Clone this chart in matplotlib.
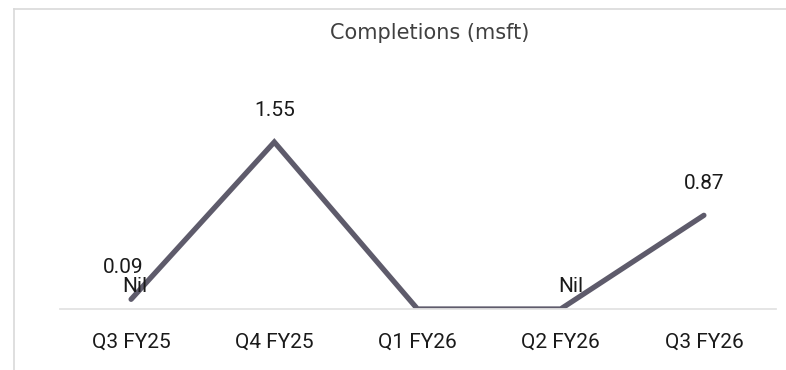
import matplotlib.pyplot as plt
from matplotlib.lines import Line2D

# Données : surfaces livrées par trimestre (millions de sq ft)
trimestres = ["Q3 FY25", "Q4 FY25", "Q1 FY26", "Q2 FY26", "Q3 FY26"]
livraisons = [0.09, 1.55, 0.0, 0.0, 0.87]
etiquettes = ["0.09", "1.55", "", "", "0.87"]

# Étiquettes "Nil" placées à part, comme dans le rapport
nil_positions = [0, 3]
nil_decalages = [(3, 9), (7, 16)]

couleur_ligne = "#5E5B6B"
couleur_texte = "#1a1a1a"
taille = 15

fig = plt.figure(figsize=(7.86, 3.70), dpi=100)
ax = fig.add_axes([59.5 / 786, 61 / 370, 716 / 786, 269.25 / 370])

x = list(range(len(trimestres)))
ax.plot(x, livraisons, color=couleur_ligne, linewidth=3.8, solid_capstyle="round",
        solid_joinstyle="miter")

for i, (v, lab) in enumerate(zip(livraisons, etiquettes)):
    if not lab:
        continue
    dx = -6 if i == 0 else 0
    ax.annotate(lab, (i, v), xytext=(dx, 23), textcoords="offset points",
                ha="center", va="center", fontsize=taille, family="Roboto",
                color=couleur_texte)

for i, (dx, dy) in zip(nil_positions, nil_decalages):
    ax.annotate("Nil", (i, livraisons[i]), xytext=(dx, dy), textcoords="offset points",
                ha="center", va="center", fontsize=taille, family="Roboto",
                color=couleur_texte)

ax.set_xlim(-0.5, len(trimestres) - 0.5)
ax.set_ylim(0, 2.5)
ax.set_xticks(x)
ax.set_xticklabels(trimestres, fontsize=taille, family="Roboto", color=couleur_texte)
ax.tick_params(axis="x", length=0, pad=17)
ax.set_yticks([])
for cote in ["top", "right", "left"]:
    ax.spines[cote].set_visible(False)
ax.spines["bottom"].set_color("#e3e3e3")
ax.spines["bottom"].set_linewidth(1.3)
ax.set_zorder(2)

fig.text(430 / 786, 1 - 33 / 370, "Completions (msft)", ha="center", va="center",
         fontsize=15, family="DejaVu Sans", color="#404040")

# Cadre gris clair autour du graphique
fig.add_artist(Line2D([14 / 786, 14 / 786], [0, 1 - 9 / 370], color="#d9d9d9",
                      linewidth=1.2, transform=fig.transFigure))
fig.add_artist(Line2D([14 / 786, 1], [1 - 9 / 370, 1 - 9 / 370], color="#d9d9d9",
                      linewidth=1.2, transform=fig.transFigure))

fig.savefig("out.png", dpi=100)
